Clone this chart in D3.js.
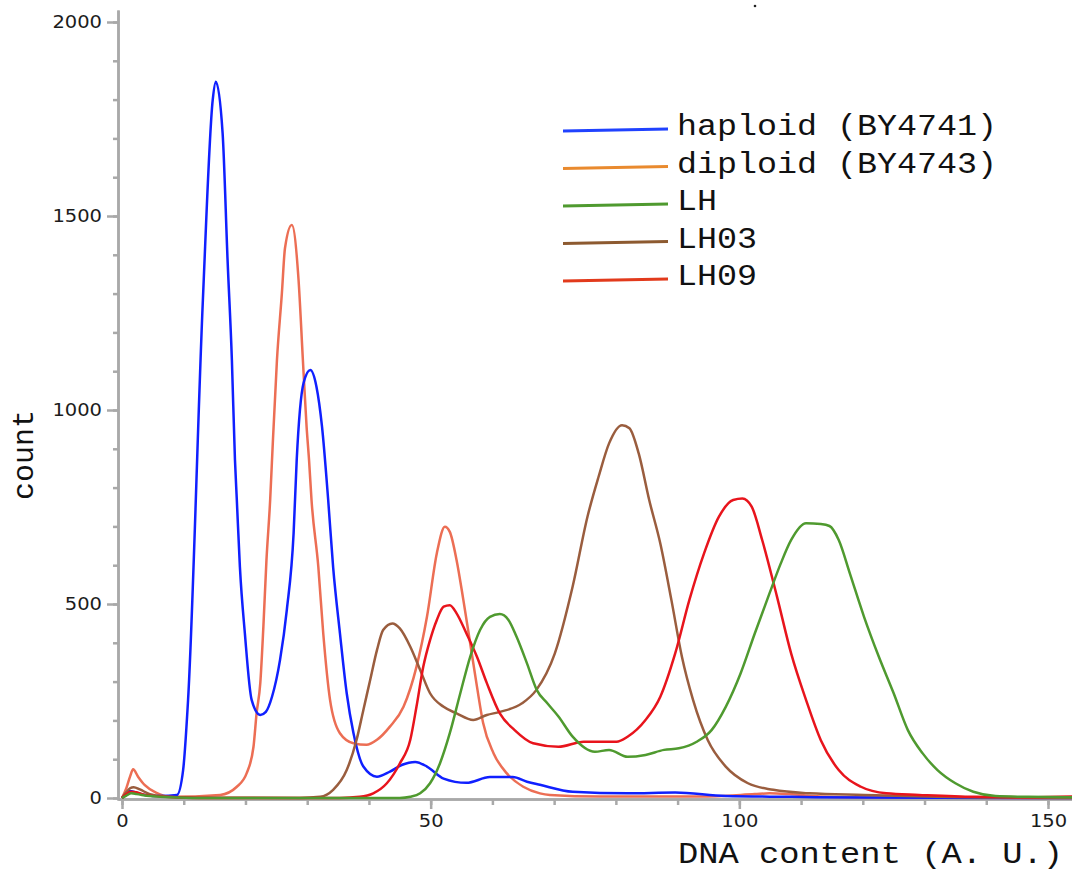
<!DOCTYPE html>
<html>
<head>
<meta charset="utf-8">
<script src="https://cdn.jsdelivr.net/npm/d3@7"></script>
<style>
  body { margin: 0; background: #fff; }
  svg { display: block; }
  .axis path, .axis line { stroke: #a9a9a9; stroke-width: 2.5; }
  .curve { fill: none; stroke-width: 2.5; stroke-linejoin: round; }
</style>
</head>
<body>
<div id="viz"></div>
<script>
// series names (legend order) and tick values
var seriesNames = ['haploid (BY4741)', 'diploid (BY4743)', 'LH', 'LH03', 'LH09'];
var xMajorTicks = [0, 50, 100, 150];
var xMinorTicks = [0, 10, 20, 30, 40, 50, 60, 70, 80, 90, 100, 110, 120, 130, 140, 150];
var yMajorTicks = [0, 500, 1000, 1500, 2000];
var yMinorTicks = [0, 100, 200, 300, 400, 500, 600, 700, 800, 900, 1000, 1100, 1200, 1300, 1400, 1500, 1600, 1700, 1800, 1900, 2000];

// [DNA content, count]
var haploid = [[0,0],[0.7,12],[1.3,18],[2.1,15],[3.7,8],[6.2,5],[8.9,8],[9.9,72],[10.7,252],[13.1,1283],[14.7,1800],
  [15.2,1846],[16.3,1713],[17.1,1387],[17.8,1129],[18.3,871],[18.6,768],[19.1,595],
  [19.9,425],[21.0,253],[22.4,214],[23.3,222],[24.3,261],[25.6,356],[26.7,485],[27.8,683],[28.3,871],[29.4,1069],
  [30.5,1103],[31.5,1060],[32.4,957],[33.4,768],[34.2,595],[35.3,425],[36.4,270],[37.5,167],[39.1,81],
  [41.3,55],[43.4,68],[45.3,85],[47.5,93],[49.4,81],[52.1,50],[55.8,39],[59.6,54],[63.3,54],[65.6,42],[67.7,34],
  [73.0,16],[81.9,12],[89.6,14],[97.8,5],[108.4,3],[119.6,1],[153.9,0]];

var diploid = [[0,0],[0.7,25],[1.3,55],[1.8,74],[2.6,55],[3.7,33],[5.5,14],[7.8,3],[15.9,8],[18.6,29],[20.2,64],
  [21.3,132],[21.8,218],[22.4,296],[22.9,441],[23.4,613],[24.0,768],[24.3,871],[25.1,1129],[25.9,1301],[26.4,1417],
  [27.5,1477],[28.6,1335],[29.3,1129],[29.9,957],[30.3,871],[30.7,768],[31.8,596],[32.6,424],[33.7,253],[35.3,167],
  [37.5,141],[39.6,137],[41.3,150],[43.4,184],[45.6,235],[47.7,338],[49.4,467],[51.0,631],[52.3,699],[53.1,686],
  [54.2,613],[55.3,510],[56.4,399],[57.5,287],[58.5,193],[60.2,115],[62.3,64],[65.0,29],[67.7,12],[69.3,8],
  [77.4,4],[93.6,4],[102.5,10],[104.9,12],[108.1,10],[113.1,4],[122.8,1],[153.9,0]];

var lh = [[0,0],[0.7,6],[1.5,12],[2.4,10],[4.5,5],[7.8,2],[12.6,0],[45.0,0],[46.7,3],[48.3,12],[49.9,38],[51.5,89],
  [53.1,167],[54.8,270],[56.4,364],[58.0,433],[59.6,467],[61.2,474],[62.6,459],[63.9,416],[65.6,347],[67.2,278],
  [68.9,244],[70.7,210],[73.0,158],[76.6,119],[78.9,124],[81.9,106],[84.8,111],[87.8,124],[90.2,128],[93.1,145],
  [95.5,175],[97.8,235],[100.2,321],[102.5,424],[104.9,528],[106.7,604],[108.4,665],[110.8,708],[113.2,706],
  [114.6,701],[116.1,665],[117.9,579],[120.2,467],[122.6,364],[125.0,270],[127.3,175],[129.7,115],[132.1,72],
  [135.0,38],[137.9,16],[141.5,5],[146.8,3],[153.9,2]];

var lh03 = [[0,0],[0.7,15],[1.3,25],[1.9,28],[2.9,22],[4.5,10],[7.0,4],[11.0,1],[28.8,0],[32.1,3],[34.2,21],[36.4,72],
  [38.0,150],[39.1,227],[40.2,304],[41.3,381],[42.3,433],[43.8,450],[45.0,437],[46.7,390],[48.3,330],[49.9,270],
  [52.1,235],[54.2,218],[56.9,201],[59.1,214],[61.2,222],[64.8,244],[67.1,278],[70.1,372],[73.0,545],[75.4,725],
  [77.2,828],[78.9,914],[81.0,961],[82.2,953],[83.7,888],[85.4,768],[87.2,656],[89.0,510],[90.7,364],[92.5,253],
  [94.9,149],[97.8,81],[101.4,38],[105.5,21],[111.4,12],[120.2,8],[132.1,3],[142.2,1],[153.9,0]];

var lh09 = [[0,0],[0.7,10],[1.5,16],[2.3,15],[3.7,8],[7.0,3],[12.6,0],[35.3,0],[38.5,3],[40.7,12],[42.9,38],[45.0,89],
  [46.7,150],[47.7,235],[48.8,338],[49.9,407],[51.0,459],[52.1,493],[53.1,497],[54.2,476],[55.8,424],[57.5,364],
  [59.1,296],[61.2,218],[63.6,175],[66.6,141],[70.7,132],[74.8,145],[80.1,145],[81.9,158],[84.8,201],[87.2,261],
  [89.6,372],[91.9,510],[94.3,631],[96.7,725],[99.0,768],[100.5,772],[102.0,751],[103.7,665],[106.1,519],[108.4,372],
  [110.8,253],[113.2,149],[116.1,72],[119.7,29],[123.8,12],[129.1,8],[138.0,3],[147.1,2],[153.9,4]];

var seriesData = [haploid, diploid, lh, lh03, lh09];
var lineColors = ['#1020ff', '#ec6e54', '#4f9a2f', '#9a5d3e', '#e8141c'];
var legendColors = ['#2042ff', '#e98a2e', '#4f9a2f', '#8d5a30', '#e23a1c'];
var drawOrder = [1, 0, 3, 4, 2];

var svg = d3.select('#viz').append('svg')
            .attr('width', 1072)
            .attr('height', 872);

var x = d3.scaleLinear().domain([0, 150]).range([122, 1048]);
var y = d3.scaleLinear().domain([0, 2000]).range([798, 22]);

// axis scales stretched so the axis lines run past the data range like the original
var xAxisScale = x.copy().domain([x.invert(118), x.invert(1072)]).range([118, 1072]);
var yAxisScale = y.copy().domain([y.invert(800), y.invert(10)]).range([800, 10]);

var styleTicks = function(g) {
  g.attr('font-family', null).attr('font-size', null);
  g.selectAll('text')
   .style('font-family', 'Verdana, "DejaVu Sans", sans-serif')
   .style('font-size', '17px')
   .style('fill', '#1c1c1c')
   .attr('textLength', function(d) { return String(d).length * 12.4; })
   .attr('lengthAdjust', 'spacingAndGlyphs');
};

svg.append('g').attr('class', 'axis')
   .attr('transform', 'translate(0,799)')
   .call(d3.axisBottom(xAxisScale).tickValues(xMinorTicks).tickSize(6).tickSizeOuter(0).tickFormat(''));
svg.append('g').attr('class', 'axis')
   .attr('transform', 'translate(0,799)')
   .call(d3.axisBottom(xAxisScale).tickValues(xMajorTicks).tickSize(10).tickPadding(6).tickSizeOuter(0)
           .tickFormat(d3.format('d')))
   .call(styleTicks);

svg.append('g').attr('class', 'axis')
   .attr('transform', 'translate(118,0)')
   .call(d3.axisLeft(yAxisScale).tickValues(yMinorTicks).tickSize(5).tickSizeOuter(0).tickFormat(''));
svg.append('g').attr('class', 'axis')
   .attr('transform', 'translate(118,0)')
   .call(d3.axisLeft(yAxisScale).tickValues(yMajorTicks).tickSize(11).tickPadding(5).tickSizeOuter(0)
           .tickFormat(d3.format('d')))
   .call(styleTicks);

// curves
var curveLine = d3.line()
                  .x(function(d) { return x(d[0]); })
                  .y(function(d) { return y(d[1]); })
                  .curve(d3.curveMonotoneX);

drawOrder.forEach(function(i) {
  svg.append('path')
     .datum(seriesData[i])
     .attr('class', 'curve')
     .attr('stroke', lineColors[i])
     .attr('d', curveLine);
});

// axis titles
var monoFont = '"Courier New", "Liberation Mono", monospace';
svg.append('text')
   .attr('x', 678).attr('y', 863)
   .attr('textLength', 385).attr('lengthAdjust', 'spacingAndGlyphs')
   .style('font-family', monoFont).style('font-size', '30px').style('fill', '#111')
   .text('DNA content (A. U.)');

svg.append('text')
   .attr('transform', 'translate(33,455) rotate(-90)')
   .attr('text-anchor', 'middle')
   .attr('textLength', 90).attr('lengthAdjust', 'spacingAndGlyphs')
   .style('font-family', monoFont).style('font-size', '29px').style('fill', '#111')
   .text('count');

// legend
var legend = svg.append('g');
seriesNames.forEach(function(name, i) {
  var base = 135 + i * 37.5;
  legend.append('line')
        .attr('x1', 563).attr('y1', base - 4)
        .attr('x2', 668).attr('y2', base - 6)
        .attr('stroke', legendColors[i])
        .attr('stroke-width', 3);
  legend.append('text')
        .attr('x', 677).attr('y', base)
        .attr('textLength', name.length * 20).attr('lengthAdjust', 'spacingAndGlyphs')
        .style('font-family', monoFont).style('font-size', '30px').style('fill', '#111')
        .text(name);
});

// stray speck at the top of the original figure
svg.append('circle')
   .attr('cx', 755).attr('cy', 6).attr('r', 1.3)
   .style('fill', '#222');
</script>
</body>
</html>
